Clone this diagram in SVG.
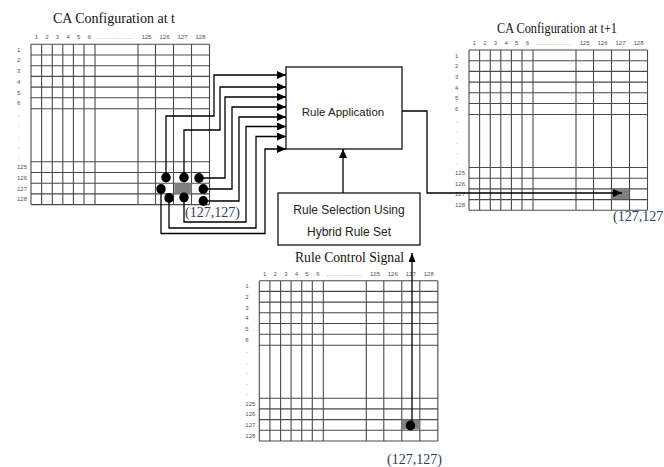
<svg xmlns="http://www.w3.org/2000/svg" xmlns:xlink="http://www.w3.org/1999/xlink" width="664" height="467" viewBox="0 0 664 467">
<style>
.gl{stroke:#4a4a4a;stroke-width:1.1;fill:none}
.lab{font-family:"Liberation Sans",Arial,sans-serif;font-size:6px;fill:#555}
.cl{text-anchor:middle}
.dots{font-family:"Liberation Sans",Arial,sans-serif;font-size:6px;fill:#8c7d3c}
.title{font-family:"Liberation Serif","Times New Roman",serif;font-size:14px;fill:#111}
.coord{font-family:"Liberation Serif","Times New Roman",serif;font-size:14px;fill:#2f3a5a}
.box{fill:#fff;stroke:#000;stroke-width:1.2}
.btxt{font-family:"Liberation Sans",Arial,sans-serif;fill:#222;text-anchor:middle}
.con{fill:none;stroke:#000;stroke-width:1.3}
.cell{fill:#808080}
.dot{fill:#000}
</style>
<defs>
<marker id="ah" markerWidth="10" markerHeight="10" refX="9" refY="4" orient="auto" markerUnits="userSpaceOnUse"><path d="M0,0 L9,4 L0,8 z" fill="#000"/></marker>
<marker id="ahs" markerWidth="10" markerHeight="10" refX="9" refY="3.5" orient="auto" markerUnits="userSpaceOnUse"><path d="M0,0 L9,3.5 L0,7 z" fill="#000"/></marker>
<g id="grid">
<path class="gl" d="M0,0V160.3M10.6,0V160.3M21.3,0V160.3M31.8,0V160.3M42.4,0V160.3M53,0V160.3M64,0V160.3M107,0V160.3M124.5,0V160.3M142.5,0V160.3M160.5,0V160.3M178.5,0V160.3M0,0H178.5M0,10.7H178.5M0,21.4H178.5M0,32.1H178.5M0,42.8H178.5M0,53.5H178.5M0,64.5H178.5M0,117.5H178.5M0,128.2H178.5M0,138.9H178.5M0,149.6H178.5M0,160.3H178.5"/>
<g class="lab cl">
<text x="5.3" y="-5">1</text><text x="15.9" y="-5">2</text><text x="26.5" y="-5">3</text><text x="37.1" y="-5">4</text><text x="47.7" y="-5">5</text><text x="58.5" y="-5">6</text>
<text x="115.7" y="-5">125</text><text x="133.5" y="-5">126</text><text x="151.5" y="-5">127</text><text x="169.5" y="-5">128</text>
</g>
<text class="dots" x="67" y="-5" textLength="35" lengthAdjust="spacingAndGlyphs">..............</text>
<g class="lab">
<text x="-14" y="7.5">1</text><text x="-14" y="18.2">2</text><text x="-14" y="28.9">3</text><text x="-14" y="39.6">4</text><text x="-14" y="50.3">5</text><text x="-14" y="61.2">6</text>
<text x="-13" y="72.5">.</text><text x="-13" y="83">.</text><text x="-13" y="93.5">.</text><text x="-13" y="104">.</text><text x="-13" y="114.5">.</text>
<text x="-14" y="125">125</text><text x="-14" y="135.7">126</text><text x="-14" y="146.4">127</text><text x="-14" y="157.1">128</text>
</g>
</g>
</defs>
<rect width="664" height="467" fill="#fff"/>

<g id="ca-t">
<text class="title" x="53" y="23" textLength="122" lengthAdjust="spacingAndGlyphs">CA Configuration at t</text>
<use xlink:href="#grid" transform="translate(31,44.3)"/>
<rect class="cell" x="174.3" y="183.6" width="17.5" height="10"/>
<text class="coord" x="185" y="217">(127,127)</text>
</g>

<g id="ca-t1">
<text class="title" x="497" y="33" textLength="120" lengthAdjust="spacingAndGlyphs">CA Configuration at t+1</text>
<use xlink:href="#grid" transform="translate(469,50)"/>
<rect class="cell" x="611.5" y="189.2" width="17.5" height="10"/>
<text class="coord" x="613" y="221">(127,127</text>
</g>

<g id="rule-control">
<text class="title" x="295" y="262" textLength="109" lengthAdjust="spacingAndGlyphs">Rule Control Signal</text>
<use xlink:href="#grid" transform="translate(259.3,280.7)"/>
<rect class="cell" x="401.8" y="419.4" width="17.5" height="10"/>
<text class="coord" x="387" y="464">(127,127)</text>
</g>

<g id="rule-application">
<rect class="box" x="286" y="67" width="116" height="82"/>
<text class="btxt" x="343" y="116" font-size="11.5">Rule Application</text>
</g>

<g id="rule-selection">
<rect class="box" x="278" y="193" width="142" height="52"/>
<text class="btxt" x="349" y="214" font-size="12">Rule Selection Using</text>
<text class="btxt" x="349" y="235.5" font-size="12">Hybrid Rule Set</text>
</g>

<g id="connectors">
<path class="con" marker-end="url(#ah)" d="M166,178V116H214V75H286"/>
<path class="con" marker-end="url(#ah)" d="M184,178V130H220V87H286"/>
<path class="con" marker-end="url(#ah)" d="M199,178H225V97H286"/>
<path class="con" marker-end="url(#ah)" d="M203.3,189H232V107H286"/>
<path class="con" marker-end="url(#ah)" d="M203.3,201H239V117H286"/>
<path class="con" marker-end="url(#ah)" d="M184,197V222H246V126.5H286"/>
<path class="con" marker-end="url(#ah)" d="M169,197V228H256V136.5H286"/>
<path class="con" marker-end="url(#ah)" d="M161,189V233.5H265V149H286"/>
<path class="con" marker-end="url(#ah)" d="M402,111H427V193H622"/>
<path class="con" marker-end="url(#ah)" d="M343,193V149"/>
<path class="con" marker-end="url(#ahs)" d="M412,425V253"/>
<ellipse class="dot" cx="166" cy="177.5" rx="4.7" ry="5"/>
<ellipse class="dot" cx="184" cy="177.5" rx="4.7" ry="5"/>
<ellipse class="dot" cx="199" cy="178" rx="4.7" ry="5"/>
<ellipse class="dot" cx="203.3" cy="189" rx="4.7" ry="5"/>
<ellipse class="dot" cx="203.3" cy="201" rx="4.7" ry="5"/>
<ellipse class="dot" cx="184" cy="197.5" rx="4.7" ry="5"/>
<ellipse class="dot" cx="169" cy="198" rx="4.7" ry="5"/>
<ellipse class="dot" cx="161" cy="189" rx="4.7" ry="5"/>
<ellipse class="dot" cx="410.5" cy="425.5" rx="4.7" ry="5"/>
</g>
</svg>
